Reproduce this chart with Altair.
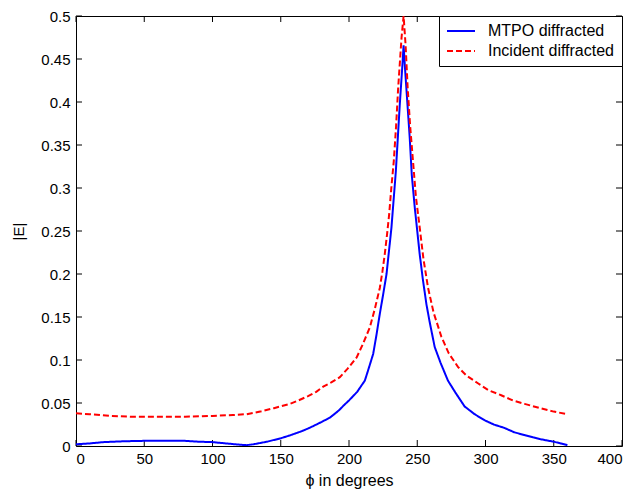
import altair as alt
import pandas as pd

series_names = ["MTPO diffracted", "Incident diffracted"]

mtpo_phi = [0, 10, 20, 35, 50, 65, 80, 90, 100, 110, 120, 125, 130, 140, 150,
            157, 165, 171, 180, 186, 190, 193, 196, 200, 203, 206, 209, 211.6,
            214, 217.7, 220, 222.6, 225, 227.5, 231.1, 234.3, 237.2, 239, 240,
            241, 242.5, 244.5, 246, 248.2, 251.8, 254, 256.7, 259, 262.8, 267,
            272.5, 278, 284.7, 292, 299.3, 306, 313.9, 321, 328.5, 335, 340,
            345, 350, 355, 360]
mtpo_E = [0.002, 0.003, 0.0045, 0.0055, 0.006, 0.006, 0.006, 0.005, 0.0045,
          0.003, 0.0015, 0.001, 0.002, 0.005, 0.009, 0.0125, 0.017, 0.021,
          0.028, 0.033, 0.038, 0.042, 0.047, 0.053, 0.058, 0.063, 0.070, 0.076,
          0.088, 0.107, 0.128, 0.154, 0.176, 0.200, 0.254, 0.319, 0.397, 0.44,
          0.466, 0.44, 0.405, 0.358, 0.315, 0.277, 0.223, 0.195, 0.165, 0.145,
          0.115, 0.097, 0.076, 0.062, 0.046, 0.037, 0.030, 0.025, 0.021, 0.016,
          0.0127, 0.010, 0.008, 0.0065, 0.005, 0.003, 0.001]

inc_phi = [0, 10, 25, 40, 60, 80, 100, 115, 125, 135, 145, 156.8, 163, 170,
           176, 181.1, 187, 193.3, 199, 205.6, 210, 215.3, 219, 222.6, 224.5,
           226.2, 227.8, 229.4, 231, 232.8, 234.5, 236, 238.5, 240, 241.5, 243,
           244.8, 246.9, 249, 251.8, 254.5, 257.9, 262, 267.7, 273, 279.8, 286,
           294.4, 302, 311.5, 320, 328.6, 340, 350, 360]
inc_E = [0.038, 0.037, 0.035, 0.034, 0.034, 0.034, 0.035, 0.036, 0.037, 0.040,
         0.044, 0.049, 0.053, 0.058, 0.063, 0.069, 0.074, 0.080, 0.090, 0.103,
         0.118, 0.138, 0.160, 0.184, 0.203, 0.223, 0.245, 0.269, 0.300, 0.331,
         0.372, 0.416, 0.475, 0.5, 0.465, 0.416, 0.372, 0.331, 0.290, 0.254,
         0.218, 0.184, 0.155, 0.127, 0.108, 0.092, 0.082, 0.073, 0.065, 0.059,
         0.053, 0.049, 0.044, 0.040, 0.037]

x_ticks = [0, 50, 100, 150, 200, 250, 300, 350, 400]
y_ticks = [0, 0.05, 0.1, 0.15, 0.2, 0.25, 0.3, 0.35, 0.4, 0.45, 0.5]

df = pd.DataFrame({
    "phi": mtpo_phi + inc_phi,
    "E": mtpo_E + inc_E,
    "series": [series_names[0]] * len(mtpo_phi) + [series_names[1]] * len(inc_phi),
})
xt = pd.DataFrame({"t": x_ticks})
yt = pd.DataFrame({"t": y_ticks})

W, H = 546, 430
TL = 6
FONT = "Liberation Sans"

xs = alt.Scale(domain=[0, 400], nice=False, zero=False)
ys = alt.Scale(domain=[0, 0.5], nice=False)

legend = alt.Legend(
    title=None, orient="top-right", offset=0, symbolType="M-2,0H2",
    symbolSize=196, symbolStrokeWidth=2, symbolOffset=7,
    labelFontSize=16, labelFont=FONT,
    labelColor="black", padding=7, rowPadding=4, labelOffset=19,
    strokeColor="black", fillColor="white", labelLimit=300,
)

lines = alt.Chart(df).mark_line(strokeWidth=2, clip=True).encode(
    x=alt.X("phi:Q", scale=xs, axis=alt.Axis(
        orient="bottom", values=x_ticks, ticks=False, domain=False, grid=False,
        labelPadding=5, labelFlush=True, title="ϕ in degrees", titlePadding=6,
        titleFontSize=16)),
    y=alt.Y("E:Q", scale=ys, axis=alt.Axis(
        orient="left", values=y_ticks, format=".2~f", ticks=False, domain=False,
        grid=False, labelPadding=6, title="|E|", titlePadding=14)),
    color=alt.Color("series:N", scale=alt.Scale(domain=series_names,
                    range=["#0000ff", "#ff0000"]), legend=legend),
    strokeDash=alt.StrokeDash("series:N", scale=alt.Scale(domain=series_names,
                              range=[[1, 0], [6, 3]]), legend=legend),
)

xtick_bottom = alt.Chart(xt).mark_rule(color="black", strokeWidth=1).encode(
    x=alt.X("t:Q", scale=xs, axis=None), y=alt.value(H), y2=alt.value(H - TL))
xtick_top = alt.Chart(xt).mark_rule(color="black", strokeWidth=1).encode(
    x=alt.X("t:Q", scale=xs, axis=None), y=alt.value(0), y2=alt.value(TL))
ytick_left = alt.Chart(yt).mark_rule(color="black", strokeWidth=1).encode(
    y=alt.Y("t:Q", scale=ys, axis=None), x=alt.value(0), x2=alt.value(TL))
ytick_right = alt.Chart(yt).mark_rule(color="black", strokeWidth=1).encode(
    y=alt.Y("t:Q", scale=ys, axis=None), x=alt.value(W), x2=alt.value(W - TL))

chart = alt.layer(
    xtick_bottom, xtick_top, ytick_left, ytick_right, lines
).resolve_axis(
    x="independent", y="independent"
).properties(
    width=W, height=H,
    padding={"left": 68, "top": 8, "right": 6, "bottom": 43},
    autosize=alt.AutoSizeParams(type="none"),
    background="white",
).configure_view(
    stroke="black", strokeWidth=1
).configure_axis(
    labelFont=FONT, labelFontSize=15, labelColor="black",
    titleFont=FONT, titleFontSize=15, titleColor="black",
    titleFontWeight="normal",
)

chart.save("out.html", embed_options={"renderer": "svg", "actions": False})
